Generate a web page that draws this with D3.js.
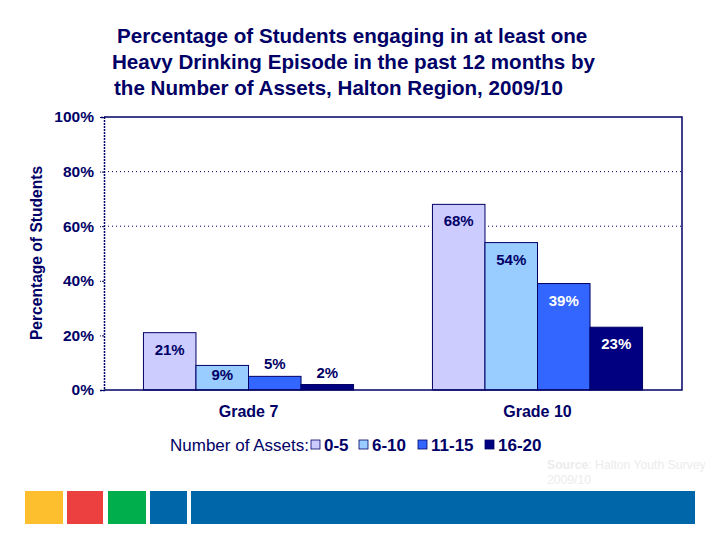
<!DOCTYPE html>
<html>
<head>
<meta charset="utf-8">
<script src="https://cdn.jsdelivr.net/npm/d3@7"></script>
<style>
  body { margin: 0; background: #fff; }
  text { font-family: "Liberation Sans", Arial, sans-serif; }
</style>
</head>
<body>
<svg id="canvas"></svg>
<script>
// data
let grades = ['Grade 7', 'Grade 10'];
let assetGroups = ['0-5', '6-10', '11-15', '16-20'];
let values05 = [21, 68];
let values610 = [9, 54];
let values1115 = [5, 39];
let values1620 = [2, 23];
let yTicks = [0, 20, 40, 60, 80, 100];
let gridTicks = [60, 80];

let colors = ['#CCCCFF', '#99CCFF', '#3366FF', '#000080'];
let labelColors = ['#000066', '#000066', '#ffffff', '#ffffff'];
let navy = '#000066';

let width = 720;
let height = 540;
let plotLeft = 104, plotRight = 682, plotTop = 117, plotBottom = 390;

let canvas = d3.select('#canvas');
canvas.attr('width', width).attr('height', height);

let series = [values05, values610, values1115, values1620];
let rows = [];
grades.forEach((g, gi) => {
    assetGroups.forEach((a, ai) => {
        rows.push({grade: g, asset: a, idx: ai, value: series[ai][gi]});
    });
});

let xScale = d3.scaleBand()
    .domain(grades)
    .range([plotLeft, plotRight])
    .paddingInner(0.273)
    .paddingOuter(0.1365);

let xInner = d3.scaleBand()
    .domain(assetGroups)
    .range([0, xScale.bandwidth()]);

let yScale = d3.scaleLinear()
    .domain([0, 100])
    .range([plotBottom, plotTop]);

// title
let titleLines = [
    'Percentage of Students engaging in at least one',
    'Heavy Drinking Episode in the past 12 months by',
    'the Number of Assets, Halton Region, 2009/10'
];
let titleX = [117, 112, 114];
canvas.append('g').selectAll('text')
    .data(titleLines)
    .enter()
    .append('text')
    .attr('x', (d, i) => titleX[i])
    .attr('y', (d, i) => 43 + i * 26)
    .attr('fill', navy)
    .attr('font-size', 20.6)
    .attr('font-weight', 'bold')
    .text(d => d);

// dotted gridlines
canvas.append('g').selectAll('line')
    .data(gridTicks)
    .enter()
    .append('line')
    .attr('x1', plotLeft)
    .attr('x2', plotRight)
    .attr('y1', d => yScale(d))
    .attr('y2', d => yScale(d))
    .attr('stroke', navy)
    .attr('stroke-width', 1)
    .attr('stroke-dasharray', '1,3');

// bars
canvas.append('g').selectAll('rect')
    .data(rows)
    .enter()
    .append('rect')
    .attr('x', d => xScale(d.grade) + xInner(d.asset))
    .attr('y', d => yScale(d.value))
    .attr('width', xInner.bandwidth())
    .attr('height', d => yScale(0) - yScale(d.value))
    .attr('fill', d => colors[d.idx])
    .attr('stroke', navy)
    .attr('stroke-width', 1);

// frame: solid top/right/bottom, dotted left axis
canvas.append('path')
    .attr('d', `M${plotLeft},${plotTop}H${plotRight}V${plotBottom}H${plotLeft}`)
    .attr('fill', 'none')
    .attr('stroke', navy)
    .attr('stroke-width', 1.5);

let yAxis = d3.axisLeft(yScale)
    .tickValues(yTicks)
    .tickSize(4)
    .tickPadding(6)
    .tickFormat(d => d + '%');

let yAxisG = canvas.append('g')
    .attr('transform', 'translate(' + plotLeft + ',0)')
    .call(yAxis);
yAxisG.select('.domain')
    .attr('stroke', navy)
    .attr('stroke-width', 1.5)
    .attr('stroke-dasharray', '2,1');
yAxisG.selectAll('.tick line')
    .attr('stroke', navy)
    .attr('stroke-dasharray', '2,1');
yAxisG.selectAll('.tick text')
    .attr('fill', navy)
    .attr('font-size', 15.5)
    .attr('font-weight', 'bold')
    .attr('font-family', '"Liberation Sans", Arial, sans-serif');

// y axis title
canvas.append('text')
    .attr('transform', 'translate(42,253) rotate(-90)')
    .attr('text-anchor', 'middle')
    .attr('fill', navy)
    .attr('font-size', 15.6)
    .attr('font-weight', 'bold')
    .text('Percentage of Students');

// category labels
let xAxis = d3.axisBottom(xScale).tickSize(0).tickPadding(16);
let xAxisG = canvas.append('g')
    .attr('transform', 'translate(0,' + plotBottom + ')')
    .call(xAxis);
xAxisG.select('.domain').remove();
xAxisG.selectAll('.tick text')
    .attr('fill', navy)
    .attr('font-size', 16)
    .attr('font-weight', 'bold')
    .attr('font-family', '"Liberation Sans", Arial, sans-serif');

// value labels
canvas.append('g').selectAll('text')
    .data(rows)
    .enter()
    .append('text')
    .attr('x', d => xScale(d.grade) + xInner(d.asset) + xInner.bandwidth() / 2)
    .attr('y', d => {
        let h = yScale(0) - yScale(d.value);
        if (h < 20) return yScale(d.value) - 7;
        if (h < 40) return yScale(d.value) + 15;
        return yScale(d.value) + 22;
    })
    .attr('text-anchor', 'middle')
    .attr('fill', d => (yScale(0) - yScale(d.value) < 20) ? navy : labelColors[d.idx])
    .attr('font-size', 15)
    .attr('font-weight', 'bold')
    .text(d => d.value + '%');

// legend
let legend = canvas.append('g').attr('transform', 'translate(0,451)');
legend.append('text')
    .attr('x', 170)
    .attr('y', 0)
    .attr('fill', navy)
    .attr('font-size', 17)
    .text('Number of Assets:');
let legendX = [311, 359, 418, 485];
let legendItems = legend.selectAll('g.item')
    .data(assetGroups)
    .enter()
    .append('g')
    .attr('class', 'item')
    .attr('transform', (d, i) => 'translate(' + legendX[i] + ',0)');
legendItems.append('rect')
    .attr('x', 0)
    .attr('y', -11)
    .attr('width', 9)
    .attr('height', 9)
    .attr('fill', (d, i) => colors[i])
    .attr('stroke', navy)
    .attr('stroke-width', 0.8);
legendItems.append('text')
    .attr('x', 13)
    .attr('y', 0)
    .attr('fill', navy)
    .attr('font-size', 17)
    .attr('font-weight', 'bold')
    .text(d => d);

// source note
let src = canvas.append('text')
    .attr('x', 547)
    .attr('y', 469)
    .attr('fill', '#ececec')
    .attr('font-size', 12.2);
src.append('tspan').attr('font-weight', 'bold').text('Source');
src.append('tspan').text(': Halton Youth Survey');
canvas.append('text')
    .attr('x', 547)
    .attr('y', 484)
    .attr('fill', '#ececec')
    .attr('font-size', 12.2)
    .text('2009/10');

// coloured footer strip
let footerX = [25, 67, 108, 150, 191];
let footerW = [38, 36, 38, 37, 504];
let footerC = ['#FDBF2D', '#EC4040', '#00AF4C', '#0066AA', '#0066AA'];
canvas.append('g').selectAll('rect')
    .data(footerX)
    .enter()
    .append('rect')
    .attr('x', d => d)
    .attr('y', 491)
    .attr('width', (d, i) => footerW[i])
    .attr('height', 33)
    .attr('fill', (d, i) => footerC[i]);
</script>
</body>
</html>
